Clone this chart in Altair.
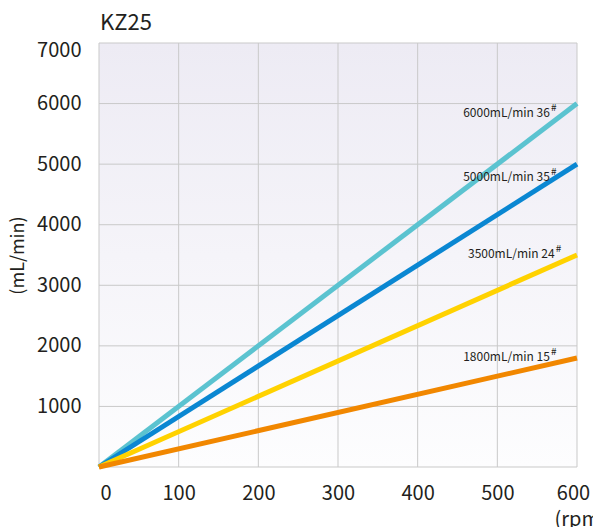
import altair as alt
import pandas as pd

FONT = "Noto Sans CJK SC"

title_text = "KZ25"
rpm = [0, 600]
series_names = ["6000mL/min 36", "5000mL/min 35", "3500mL/min 24", "1800mL/min 15"]
series_max = [6000, 5000, 3500, 1800]
colors = ["#5bc3d0", "#0a87d2", "#ffd200", "#f18700"]
label_x = [566, 566, 572, 566]
label_y = [5840, 4790, 3520, 1815]
x_ticks = [0, 100, 200, 300, 400, 500, 600]
y_ticks = [0, 1000, 2000, 3000, 4000, 5000, 6000, 7000]

rows = []
for i, (n, m) in enumerate(zip(series_names, series_max)):
    rows.append({"series": n, "rpm": rpm[0], "flow": 0, "order": i})
    rows.append({"series": n, "rpm": rpm[1], "flow": m, "order": i})
df = pd.DataFrame(rows)
lab = pd.DataFrame({"series": series_names, "rpm": label_x, "flow": label_y})

W, H = 478, 424
xs = alt.Scale(domain=[0, 600], nice=False)
ys = alt.Scale(domain=[0, 7000], nice=False)

xaxis = alt.Axis(
    values=x_ticks, title="(rpm)", format="d",
    labelFlush=False,
    labelAlign={"expr": "datum.value == 0 ? 'left' : 'center'"},
    labelOffset={"expr": "datum.value == 0 ? 1 : (datum.value == 600 ? -4 : 0)"},
    titleX=455, titleY=42, titleAlign="left", titleBaseline="top",
    titleFontSize=20, titleFontWeight="normal", labelPadding=16,
)
yaxis = alt.Axis(
    values=y_ticks, title="(mL/min)", format="d", labelFlush=True, labelFlushOffset=3,
    labelExpr="datum.value == 0 ? '' : datum.label", labelPadding=18,
    titleFontSize=18, titleFontWeight="normal", titlePadding=9,
)
X = alt.X("rpm:Q", scale=xs, axis=xaxis)
Y = alt.Y("flow:Q", scale=ys, axis=yaxis)

bg = alt.Chart(pd.DataFrame({"a": [0]})).mark_rect(
    color=alt.Gradient(
        gradient="linear", x1=0, x2=0, y1=0, y2=1,
        stops=[alt.GradientStop(offset=0, color="#edebf4"),
               alt.GradientStop(offset=1, color="#fdfdfe")],
    )
).encode(x=alt.value(0), x2=alt.value(W), y=alt.value(0), y2=alt.value(H))

vgrid = alt.Chart(pd.DataFrame({"rpm": x_ticks})).mark_rule(color="#c9c9c9", strokeWidth=1).encode(x=X)
hgrid = alt.Chart(pd.DataFrame({"flow": y_ticks})).mark_rule(color="#c9c9c9", strokeWidth=1).encode(y=Y)

lines = alt.Chart(df).mark_line(strokeWidth=5, strokeCap="butt").encode(
    x=X, y=Y,
    color=alt.Color("series:N", scale=alt.Scale(domain=series_names, range=colors), legend=None),
    order=alt.Order("order:Q"),
    detail="series:N",
)

txt = alt.Chart(lab).mark_text(align="right", baseline="middle", fontSize=12, font=FONT,
                               color="#231f20").encode(x=X, y=Y, text="series:N")
sup = alt.Chart(lab).mark_text(align="left", baseline="middle", fontSize=10, font=FONT,
                               color="#231f20", dx=1, dy=-5, text="#").encode(x=X, y=Y)

ttl = alt.Chart(pd.DataFrame({"t": [title_text]})).mark_text(
    align="left", baseline="alphabetic", fontSize=22, font=FONT, color="#231f20"
).encode(x=alt.value(1), y=alt.value(-13), text="t:N")

chart = alt.layer(bg, vgrid, hgrid, lines, txt, sup, ttl).properties(
    width=W, height=H,
    autosize=alt.AutoSizeParams(type="none"),
    padding={"left": 91, "top": 35, "right": 16, "bottom": 60},
).configure_axis(
    grid=False, domain=False, ticks=False,
    labelFont=FONT, titleFont=FONT, labelFontSize=20, labelColor="#231f20",
    titleColor="#231f20",
).configure_view(stroke=None)

chart.save("out.html", embed_options={"renderer": "svg", "actions": False})
